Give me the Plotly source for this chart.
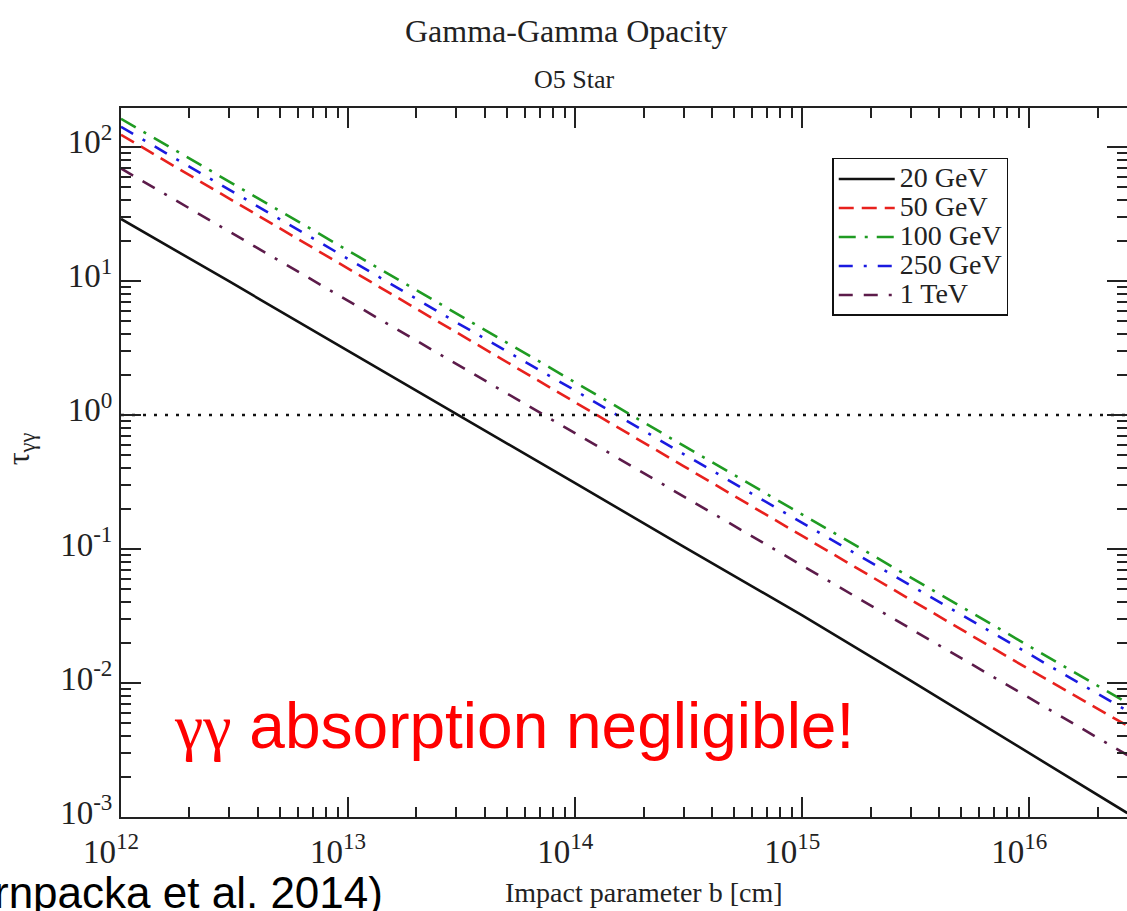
import plotly.graph_objects as go

# Impact parameter sample points [cm]
impact_b = [1e12, 3e12, 1e13, 3e13, 1e14, 3e14, 1e15, 3e15, 1e16, 2.7e16]

# Gamma-gamma optical depth for each photon energy
tau_20gev = [29, 9.9, 3.0, 1.02, 0.31, 0.104, 0.032, 0.0104, 0.0030, 0.00107]
tau_50gev = [123, 41, 12.3, 4.1, 1.24, 0.415, 0.125, 0.042, 0.0126, 0.0048]
tau_100gev = [162, 55, 17, 5.7, 1.75, 0.59, 0.18, 0.061, 0.0188, 0.0071]
tau_250gev = [141, 48, 14.6, 4.9, 1.52, 0.51, 0.157, 0.053, 0.0163, 0.0062]
tau_1tev = [69, 23.3, 7.1, 2.4, 0.73, 0.245, 0.075, 0.0254, 0.0077, 0.0029]

series_names = ["20 GeV", "50 GeV", "100 GeV", "250 GeV", "1 TeV"]

# Optical depth of unity reference
unity_b = [1e12, 2.7e16]
unity_tau = [1, 1]

x_tickvals = [1e12, 1e13, 1e14, 1e15, 1e16]
x_ticktext = ["10<sup>12</sup>", "10<sup>13</sup>", "10<sup>14</sup>", "10<sup>15</sup>", "10<sup>16</sup>"]
y_tickvals = [1e-3, 1e-2, 1e-1, 1e0, 1e1, 1e2]
y_ticktext = ["10<sup>-3</sup>", "10<sup>-2</sup>", "10<sup>-1</sup>", "10<sup>0</sup>", "10<sup>1</sup>", "10<sup>2</sup>"]

X_RANGE = [12, 16.43]
Y_RANGE = [-3, 2.29]

SERIF = "Liberation Serif, Times New Roman, serif"
SANS = "Liberation Sans, Arial, sans-serif"
INK = "#222222"

styles = [
    dict(color="#111111", dash="solid"),
    dict(color="#e8211d", dash="15px,8px"),
    dict(color="#1f9b22", dash="17px,9px,3px,9px"),
    dict(color="#1a1ae0", dash="14px,11px,3px,11px"),
    dict(color="#5c1b4a", dash="14px,11px,14px,11px,3px,11px"),
]

fig = go.Figure()

# tau = 1 line, placed on the right-hand twin axis (same scale) so that axis is drawn
fig.add_trace(go.Scatter(
    x=unity_b, y=unity_tau, mode="lines", showlegend=False, yaxis="y2",
    line=dict(color="#111111", width=2.5, dash="3px,8px"), hoverinfo="skip",
))

for name, tau, st in zip(series_names,
                         [tau_20gev, tau_50gev, tau_100gev, tau_250gev, tau_1tev],
                         styles):
    fig.add_trace(go.Scatter(
        x=impact_b, y=tau, mode="lines",
        name="<span style='font-size:28px'>%s</span>" % name,
        line=dict(color=st["color"], width=2.6, dash=st["dash"]),
    ))

tick_style = dict(ticks="inside", ticklen=20, tickwidth=2, tickcolor=INK,
                  showgrid=False, zeroline=False,
                  minor=dict(ticks="inside", ticklen=10, tickwidth=2, tickcolor=INK,
                             dtick="D1", showgrid=False))

fig.update_layout(
    xaxis=dict(type="log", range=X_RANGE, tickmode="array",
               tickvals=x_tickvals, ticktext=x_ticktext,
               showline=True, linecolor=INK, linewidth=2, mirror="ticks",
               tickfont=dict(family=SERIF, size=33, color=INK),
               ticklabelshift=-10, ticklabelstandoff=4, **tick_style),
    yaxis=dict(type="log", range=Y_RANGE, tickmode="array",
               tickvals=y_tickvals, ticktext=y_ticktext,
               showline=True, linecolor=INK, linewidth=2, mirror=False,
               tickfont=dict(family=SERIF, size=33, color=INK),
               ticklabelshift=-5, **tick_style),
    # right-hand tick marks without a frame line
    yaxis2=dict(type="log", range=Y_RANGE, overlaying="y", side="right",
                anchor="x", tickmode="array", tickvals=y_tickvals,
                showticklabels=False, showline=False, **tick_style),
)


def label(text, x, y, size, family=SERIF, color=INK, **kw):
    base = dict(text=text, x=x, y=y, xref="paper", yref="paper", showarrow=False,
                xanchor="center", yanchor="middle",
                font=dict(family=family, size=size, color=color))
    base.update(kw)
    return base


annotations = [
    label("Gamma-Gamma Opacity", 0.443, 1.108, 32),
    label("O5 Star", 0.451, 1.0395, 26),
    label("Impact parameter b [cm]", 0.52, -0.107, 28),
    label("τ<sub>γγ</sub>", -0.1004, 0.52, 32, textangle=-90),
    label("<span style='font-family:Liberation Serif'>γγ</span> absorption negligible!",
          0.0507, 0.128, 64, family=SANS, color="#ff0000", xanchor="left"),
    label("rnpacka et al. 2014)", -0.128, -0.107, 44, family=SANS, color="#000000",
          xanchor="left"),
]

fig.update_layout(
    width=1127, height=911,
    margin=dict(l=121, r=0, t=108, b=94),
    paper_bgcolor="white", plot_bgcolor="white",
    annotations=annotations,
    legend=dict(x=0.707, y=0.9295, xanchor="left", yanchor="top",
                bordercolor="#111111", borderwidth=1.5, bgcolor="white",
                font=dict(family=SERIF, size=20, color=INK),
                itemwidth=56, tracegroupgap=0),
)

fig.write_html("out.html")
